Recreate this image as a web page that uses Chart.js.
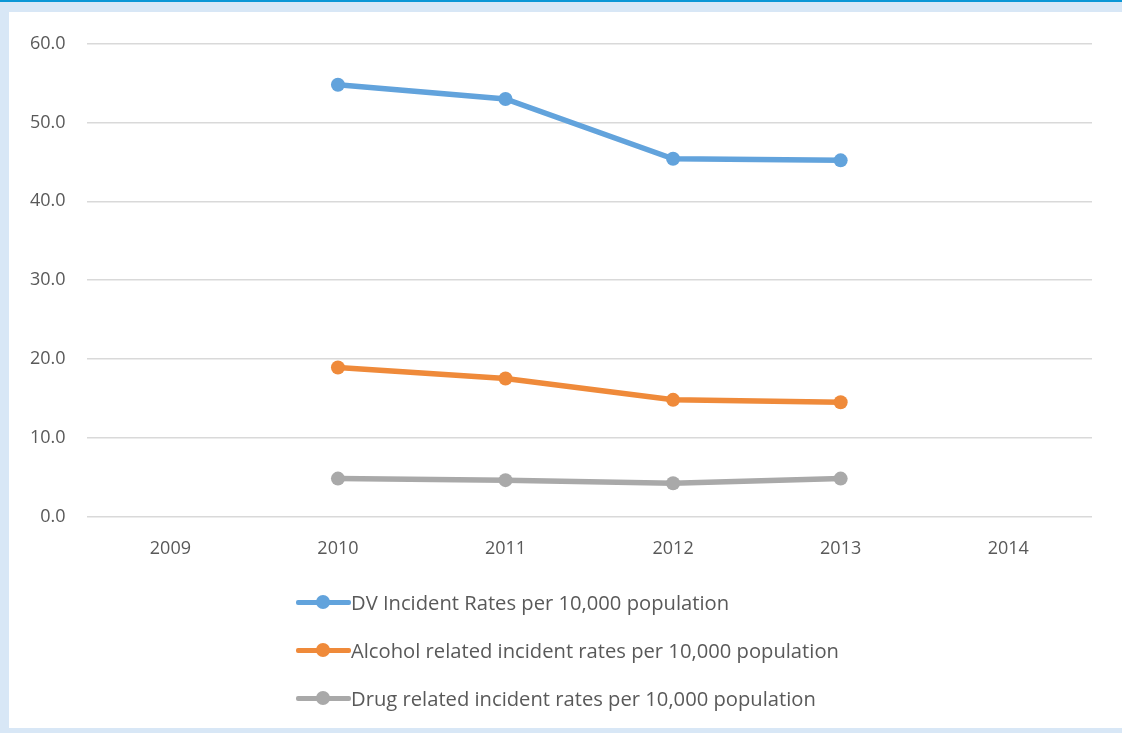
<!DOCTYPE html>
<html>
<head>
<meta charset="utf-8">
<script src="https://cdn.jsdelivr.net/npm/chart.js@4.4.1/dist/chart.umd.min.js"></script>
<style>
  html, body { margin: 0; padding: 0; }
  body { width: 1122px; height: 733px; background: #d8e7f6; position: relative; overflow: hidden; font-family: "Open Sans", "Noto Sans", sans-serif; }
  .topbar { position: absolute; left: 0; top: 0; width: 1122px; height: 2px; background: #0b97d6; }
  .panel { position: absolute; left: 9px; top: 12px; width: 1113px; height: 716px; background: #fff; }
  .chart-wrap { position: absolute; left: 0; top: 0; width: 1113px; height: 582px; }
  #legend { position: absolute; left: 287px; top: 566px; }
  .item { display: flex; align-items: center; height: 48px; color: #595959; font-size: 20.2px; }
  .swatch { position: relative; width: 55px; height: 20px; margin-right: 0; }
  .swatch .ln { position: absolute; left: 0; right: 0; top: 7.5px; height: 5.5px; border-radius: 2px; }
  .swatch .dot { position: absolute; left: 20px; top: 3px; width: 14px; height: 14px; border-radius: 50%; }
</style>
</head>
<body>
<div class="topbar"></div>
<div class="panel">
  <div class="chart-wrap"><canvas id="incChart"></canvas></div>
  <div id="legend"></div>
</div>
<script>
// Data
const years = ['2009', '2010', '2011', '2012', '2013', '2014'];
const dvRates = [null, 54.8, 53.0, 45.4, 45.2, null];
const alcoholRates = [null, 18.9, 17.5, 14.8, 14.5, null];
const drugRates = [null, 4.8, 4.6, 4.2, 4.8, null];

const seriesLabels = [
  'DV Incident Rates per 10,000 population',
  'Alcohol related incident rates per 10,000 population',
  'Drug related incident rates per 10,000 population'
];
const seriesColors = ['#62a3dc', '#ef8a3a', '#a9a9a9'];

function makeSet(label, data, color) {
  return {
    label: label,
    data: data,
    borderColor: color,
    backgroundColor: color,
    borderWidth: 5.5,
    pointRadius: 7,
    pointHoverRadius: 7,
    pointBorderWidth: 0,
    tension: 0,
    spanGaps: false
  };
}

const tickFont = { size: 18, family: '"Open Sans", "Noto Sans", sans-serif' };

const ctx = document.getElementById('incChart').getContext('2d');
const chart = new Chart(ctx, {
  type: 'line',
  data: {
    labels: years,
    datasets: [
      makeSet(seriesLabels[0], dvRates, seriesColors[0]),
      makeSet(seriesLabels[1], alcoholRates, seriesColors[1]),
      makeSet(seriesLabels[2], drugRates, seriesColors[2])
    ]
  },
  options: {
    responsive: true,
    maintainAspectRatio: false,
    animation: false,
    layout: { padding: { left: 0, right: 30, top: 31, bottom: 12 } },
    scales: {
      x: {
        offset: true,
        grid: { display: false, drawTicks: false },
        border: { display: false },
        ticks: { color: '#595959', font: tickFont, padding: 22 }
      },
      y: {
        min: 0,
        max: 60,
        grid: { color: '#d9d9d9', lineWidth: 1.5, drawTicks: false },
        border: { display: false },
        ticks: {
          stepSize: 10,
          color: '#595959',
          padding: 21,
          font: tickFont,
          callback: v => v.toFixed(1)
        }
      }
    },
    plugins: {
      legend: { display: false },
      tooltip: { enabled: false }
    }
  }
});

// HTML legend built from the chart's datasets
const legend = document.getElementById('legend');
chart.data.datasets.forEach(ds => {
  const item = document.createElement('div');
  item.className = 'item';
  item.innerHTML = '<div class="swatch"><div class="ln" style="background:' + ds.borderColor +
    '"></div><div class="dot" style="background:' + ds.borderColor + '"></div></div><span>' + ds.label + '</span>';
  legend.appendChild(item);
});
</script>
</body>
</html>
